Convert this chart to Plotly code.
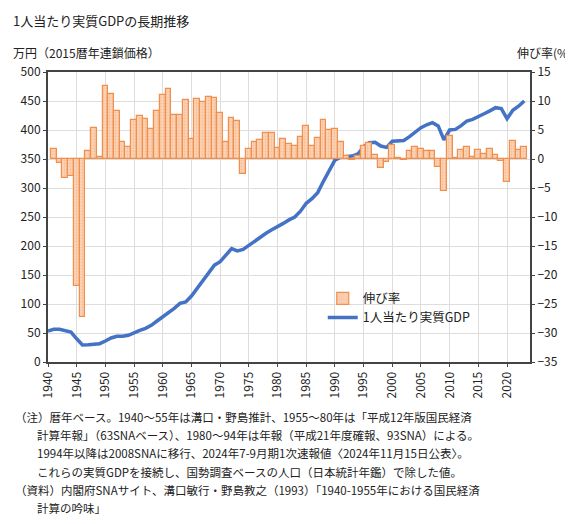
import plotly.graph_objects as go

years = list(range(1940, 2024))
gdp = [53.4, 56.3, 56.3, 54.6, 51.7, 40.0, 29.3, 29.9, 31.0, 31.6,
       36.2, 41.4, 44.3, 44.3, 46.0, 50.6, 54.6, 58.0, 63.2, 70.7,
       77.6, 85.0, 92.5, 101.0, 103.4, 113.8, 127.0, 141.4, 154.0, 167.0,
       173.0, 185.0, 195.4, 191.4, 194.0, 201.0, 208.6, 216.0, 222.0, 228.0,
       233.0, 239.0, 245.0, 250.0, 260.0, 273.6, 281.6, 292.0, 311.5, 331.0,
       348.0, 353.0, 354.0, 355.0, 358.6, 371.0, 378.0, 379.0, 372.4, 370.0,
       380.5, 381.0, 382.0, 388.5, 396.6, 404.0, 409.0, 412.6, 407.0, 383.0,
       400.0, 401.0, 407.5, 415.5, 418.4, 424.0, 428.0, 433.0, 438.5, 437.0,
       419.5, 434.0, 441.0, 450.0]
growth_years = list(range(1941, 2024))
growth = [1.7, -0.75, -3.2, -3.0, -21.9, -27.3, 1.4, 5.3, 0.4,
          12.6, 11.2, 8.3, 3.0, 2.0, 6.7, 7.4, 6.9, 5.2, 8.3,
          11.0, 12.0, 7.6, 7.6, 10.1, 3.5, 10.4, 9.8, 10.7, 10.6,
          7.9, 3.0, 7.0, 6.6, -2.6, 1.7, 2.9, 3.3, 4.4, 4.5,
          1.9, 3.4, 2.6, 2.3, 3.8, 5.7, 2.3, 3.7, 6.8, 5.0,
          5.2, 2.9, 0.6, -0.1, 0.6, 2.3, 2.8, 0.7, -1.6, -0.5,
          2.5, 0.2, -0.1, 1.4, 2.1, 1.8, 1.3, 1.4, -1.4, -5.6,
          4.0, 0.2, 1.6, 2.1, 0.3, 1.6, 0.8, 1.8, 0.7, -0.3,
          -3.9, 3.1, 1.5, 2.1]
tick_years = list(range(1940, 2021, 5))

FONT = "Noto Sans CJK JP"
fig = go.Figure()
fig.add_trace(go.Bar(
    x=growth_years, y=growth, yaxis="y2", name="伸び率", width=1.0,
    marker=dict(color="#FBD3B5", line=dict(color="#F0904F", width=1.2),
                pattern=dict(shape=".", fgcolor="#F4A878", size=3, solidity=0.3)),
))
fig.add_trace(go.Scatter(
    x=years, y=gdp, name="1人当たり実質GDP", mode="lines",
    line=dict(color="#4472C4", width=3.5),
))

fig.update_layout(
    width=573, height=524, plot_bgcolor="white", paper_bgcolor="white",
    margin=dict(l=40, r=51, t=64, b=170, autoexpand=False),
    font=dict(family=FONT, size=12, color="#222"),
    showlegend=True,
    legend=dict(x=0.57, y=0.27, xanchor="left", yanchor="top",
                bgcolor="rgba(0,0,0,0)", font=dict(size=12.5), traceorder="normal"),
    xaxis=dict(range=[1940, 2024], tickvals=tick_years, automargin=False,
               ticktext=[str(y) for y in tick_years], tickangle=-90,
               showgrid=True, gridcolor="#DDDDDD", gridwidth=1,
               showline=True, linecolor="#444", linewidth=2, mirror=True,
               ticks="outside", ticklen=3, tickfont=dict(size=12)),
    yaxis=dict(range=[0, 500], dtick=50, showgrid=True, gridcolor="#DDDDDD",
               automargin=False,
               showline=True, linecolor="#444", linewidth=2,
               ticks="outside", ticklen=3, tickfont=dict(size=12), zeroline=False),
    yaxis2=dict(range=[-35, 15], dtick=5, overlaying="y", side="right",
                automargin=False,
                showgrid=False, showline=True, linecolor="#444", linewidth=2,
                ticks="outside", ticklen=3, tickfont=dict(size=12), zeroline=False),
    bargap=0,
)

ann = [
    dict(x=3, y=12, text="1人当たり実質GDPの長期推移", size=13),
    dict(x=3, y=45, text="万円（2015暦年連鎖価格）", size=12),
]
for a in ann:
    fig.add_annotation(x=a["x"], y=a["y"], xref="paper", yref="paper", text=a["text"],
                       showarrow=False, xanchor="left", yanchor="middle",
                       font=dict(size=a["size"]))
fig.add_annotation(x=566, y=45, xref="paper", yref="paper", text="伸び率(%)",
                   showarrow=False, xanchor="right", yanchor="middle", font=dict(size=12))

notes = [
    (5, "（注）暦年ベース。1940～55年は溝口・野島推計、1955～80年は「平成12年版国民経済"),
    (27, "計算年報」（63SNAベース）、1980～94年は年報（平成21年度確報、93SNA）による。"),
    (27, "1994年以降は2008SNAに移行、2024年7-9月期1次速報値〈2024年11月15日公表〉。"),
    (27, "これらの実質GDPを接続し、国勢調査ベースの人口（日本統計年鑑）で除した値。"),
    (5, "（資料）内閣府SNAサイト、溝口敏行・野島教之（1993）「1940-1955年における国民経済"),
    (27, "計算の吟味」"),
]
for i, (xp, t) in enumerate(notes):
    fig.add_annotation(x=xp, y=409 + i * 18.2, xref="paper", yref="paper", text=t,
                       showarrow=False, xanchor="left", yanchor="middle",
                       font=dict(size=11.5))

W, H = 573, 524
l, r, t, b = 40, 51, 64, 170
pw, ph = W - l - r, H - t - b
for a in fig.layout.annotations:
    a.x = (a.x - l) / pw
    a.y = 1 - (a.y - t) / ph

fig.write_html("out.html")
